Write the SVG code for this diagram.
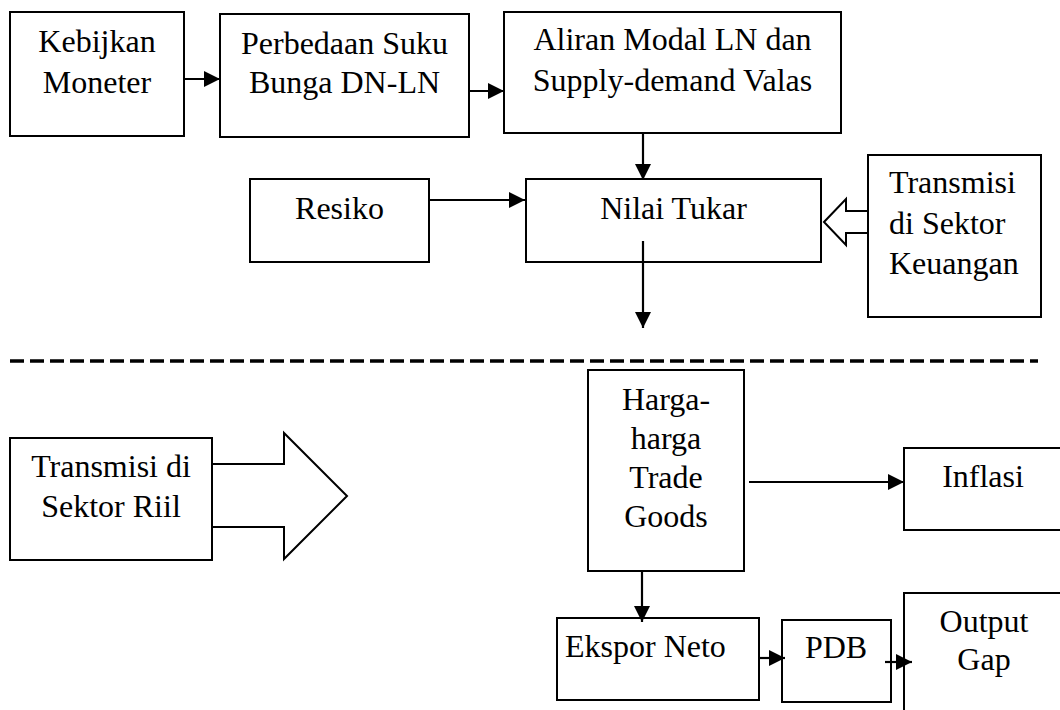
<svg xmlns="http://www.w3.org/2000/svg" width="1060" height="710" viewBox="0 0 1060 710">
<style>
.box{fill:#fff;stroke:#000;stroke-width:2}
.t{font-family:"Liberation Serif","Times New Roman",serif;font-size:32px;fill:#000}
.c{text-anchor:middle}
.ln{stroke:#000;stroke-width:2.2;fill:none}
.blk{fill:#fff;stroke:#000;stroke-width:2;stroke-linejoin:miter}
</style>
<defs>
<marker id="ah" markerUnits="userSpaceOnUse" markerWidth="16" markerHeight="16" viewBox="0 0 15 15" refX="15" refY="7.5" orient="auto">
<path d="M0,0 L15,7.5 L0,15 Z" fill="#000"/>
</marker>
</defs>
<rect width="1060" height="710" fill="#fff"/>

<g id="kebijakan">
<rect class="box" x="10" y="12" width="174" height="124"/>
<text class="t c" x="97" y="52">Kebijkan</text>
<text class="t c" x="97" y="93">Moneter</text>
</g>
<g id="perbedaan">
<rect class="box" x="220" y="14" width="249" height="123"/>
<text class="t c" x="344.5" y="54">Perbedaan Suku</text>
<text class="t c" x="344.5" y="93">Bunga DN-LN</text>
</g>
<g id="aliran">
<rect class="box" x="504" y="12" width="337" height="121"/>
<text class="t c" x="672.5" y="50">Aliran Modal LN dan</text>
<text class="t c" x="672.5" y="91">Supply-demand Valas</text>
</g>
<g id="resiko">
<rect class="box" x="250" y="179" width="179" height="83"/>
<text class="t c" x="339.5" y="219">Resiko</text>
</g>
<g id="nilai">
<rect class="box" x="526" y="179" width="295" height="83"/>
<text class="t c" x="673.5" y="219">Nilai Tukar</text>
</g>
<g id="keuangan">
<rect class="box" x="868" y="155" width="173" height="162"/>
<text class="t" x="889" y="193">Transmisi</text>
<text class="t" x="889" y="234">di Sektor</text>
<text class="t" x="889" y="274">Keuangan</text>
</g>
<g id="riil">
<rect class="box" x="10" y="438" width="202" height="122"/>
<text class="t c" x="111" y="477">Transmisi di</text>
<text class="t c" x="111" y="517">Sektor Riil</text>
</g>
<g id="harga">
<rect class="box" x="588" y="370" width="156" height="201"/>
<text class="t c" x="666" y="410">Harga-</text>
<text class="t c" x="666" y="449">harga</text>
<text class="t c" x="666" y="488">Trade</text>
<text class="t c" x="666" y="527">Goods</text>
</g>
<g id="inflasi">
<rect class="box" x="904" y="448" width="160" height="82"/>
<text class="t c" x="983" y="487">Inflasi</text>
</g>
<g id="ekspor">
<rect class="box" x="557" y="618" width="202" height="82"/>
<text class="t" x="565" y="657">Ekspor Neto</text>
</g>
<g id="pdb">
<rect class="box" x="782" y="620" width="109" height="82"/>
<text class="t c" x="836" y="658">PDB</text>
</g>
<g id="outputgap">
<rect class="box" x="904" y="593" width="160" height="130"/>
<text class="t c" x="984" y="632">Output</text>
<text class="t c" x="984" y="670">Gap</text>
</g>

<g id="connectors">
<line class="ln" x1="184" y1="79" x2="220" y2="79" marker-end="url(#ah)"/>
<line class="ln" x1="469" y1="91" x2="504" y2="91" marker-end="url(#ah)"/>
<line class="ln" x1="643" y1="133" x2="643" y2="180" marker-end="url(#ah)"/>
<line class="ln" x1="429" y1="200" x2="525" y2="200" marker-end="url(#ah)"/>
<line class="ln" x1="643" y1="241" x2="643" y2="328" marker-end="url(#ah)"/>
<polygon class="blk" points="824,222 846,199 846,211 868,211 868,233 846,233 846,245"/>
<line x1="10" y1="361" x2="1038" y2="361" stroke="#000" stroke-width="3.5" stroke-dasharray="14 6"/>
<polygon class="blk" points="212,464 284,464 284,433 347,496 284,559 284,527 212,527"/>
<line class="ln" x1="749" y1="482" x2="904" y2="482" marker-end="url(#ah)"/>
<line class="ln" x1="642" y1="571" x2="642" y2="622" marker-end="url(#ah)"/>
<line class="ln" x1="759" y1="658" x2="785" y2="658" marker-end="url(#ah)"/>
<line class="ln" x1="885" y1="662" x2="912" y2="662" marker-end="url(#ah)"/>
</g>
</svg>
